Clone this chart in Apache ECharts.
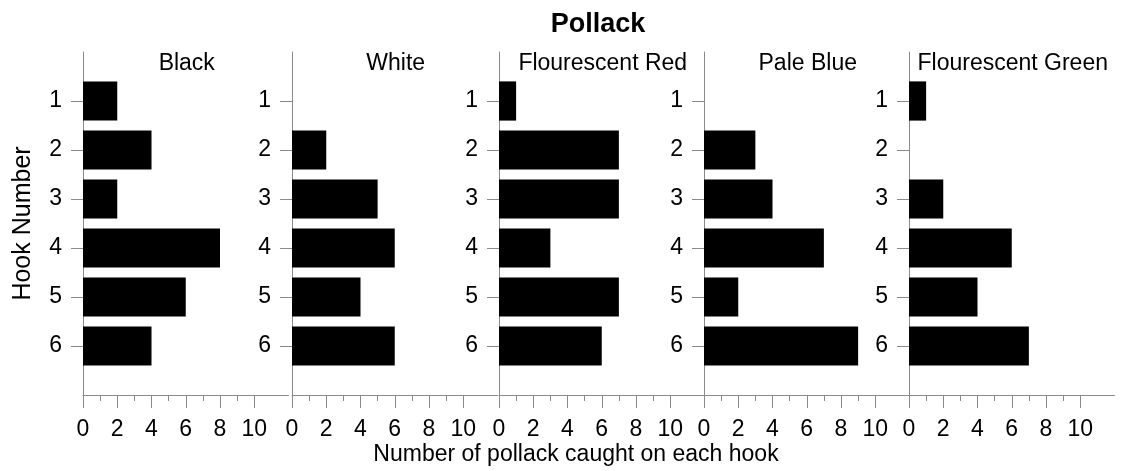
<!DOCTYPE html>
<html>
<head>
<meta charset="utf-8">
<title>Pollack</title>
<script src="https://cdn.jsdelivr.net/npm/echarts@6/dist/echarts.min.js"></script>
<style>
  html, body { margin: 0; padding: 0; background: #fff; }
  #chart { width: 1125px; height: 471px; }
</style>
</head>
<body>
<div id="chart"></div>
<script>
// Pollack catch per hook, one panel per lure colour
const colours = ['Black', 'White', 'Flourescent Red', 'Pale Blue', 'Flourescent Green'];
const hooks = ['1', '2', '3', '4', '5', '6'];
const black = [2, 4, 2, 8, 6, 4];
const white = [0, 2, 5, 6, 4, 6];
const fluoRed = [1, 7, 7, 3, 7, 6];
const paleBlue = [0, 3, 4, 7, 2, 9];
const fluoGreen = [1, 0, 2, 6, 4, 7];
const majorTicks = [0, 2, 4, 6, 8, 10];
const minorTicks = [1, 3, 5, 7, 9];

const panelValues = [black, white, fluoRed, paleBlue, fluoGreen];

// panel layout (pixels)
const panelLeft = [83, 292, 499, 704, 909];
const panelWidth = 205.5;
const panelTop = 52;
const panelHeight = 343;

const FONT = 'Liberation Sans, Arial, sans-serif';
const AXIS_GREY = '#8a8a8a';

// pad the hook list with empty slots so hooks sit one step in from each end
const hookSlots = [''].concat(hooks, ['']);
const showHook = (idx, val) => val !== '';

const grid = [], xAxis = [], yAxis = [], series = [], graphic = [];

panelValues.forEach((vals, i) => {
  grid.push({
    left: panelLeft[i], top: panelTop, width: panelWidth, height: panelHeight,
    outerBoundsMode: 'none', containLabel: false
  });
  // main value axis with labelled ticks
  xAxis.push({
    type: 'value', gridIndex: i, min: 0, max: 12, position: 'bottom',
    axisLine: { show: true, lineStyle: { color: AXIS_GREY, width: 1 } },
    axisTick: { show: true, customValues: majorTicks, length: 13, lineStyle: { color: AXIS_GREY } },
    axisLabel: { show: true, customValues: majorTicks, margin: 23, color: '#000', fontSize: 23, fontFamily: FONT },
    splitLine: { show: false }
  });
  // companion axis carrying the short odd-number ticks
  xAxis.push({
    type: 'value', gridIndex: i, min: 0, max: 12, position: 'bottom', offset: 0,
    axisLine: { show: false },
    axisTick: { show: true, customValues: minorTicks, length: 6, lineStyle: { color: AXIS_GREY } },
    axisLabel: { show: false },
    splitLine: { show: false }
  });
  yAxis.push({
    type: 'category', gridIndex: i, data: hookSlots, inverse: true, boundaryGap: false,
    axisLine: { show: true, lineStyle: { color: AXIS_GREY, width: 1 } },
    axisTick: { show: true, interval: showHook, length: 12, lineStyle: { color: AXIS_GREY } },
    axisLabel: { show: true, interval: showHook, margin: 21, color: '#000', fontSize: 23, fontFamily: FONT },
    splitLine: { show: false },
    name: i === 0 ? 'Hook Number' : '',
    nameLocation: 'middle', nameRotate: 90, nameGap: 47,
    nameTextStyle: { color: '#000', fontSize: 25, fontFamily: FONT }
  });
  series.push({
    type: 'bar', xAxisIndex: 2 * i, yAxisIndex: i,
    data: [null].concat(vals, [null]),
    barWidth: '80%',
    itemStyle: { color: '#000' },
    silent: true, animation: false
  });
  graphic.push({
    type: 'text', x: panelLeft[i] + panelWidth / 2 + 1, y: 64,
    style: {
      text: colours[i], fill: '#000', font: '23px ' + FONT,
      align: 'center', verticalAlign: 'middle', textAlign: 'center', textVerticalAlign: 'middle'
    }
  });
});

graphic.push({
  type: 'text', x: 598, y: 25,
  style: {
    text: 'Pollack', fill: '#000', font: 'bold 27px ' + FONT,
    align: 'center', verticalAlign: 'middle', textAlign: 'center', textVerticalAlign: 'middle'
  }
});
graphic.push({
  type: 'text', x: 576, y: 455,
  style: {
    text: 'Number of pollack caught on each hook', fill: '#000', font: '23px ' + FONT,
    align: 'center', verticalAlign: 'middle', textAlign: 'center', textVerticalAlign: 'middle'
  }
});

const chart = echarts.init(document.getElementById('chart'), null, { renderer: 'canvas' });
chart.setOption({
  backgroundColor: '#fff',
  animation: false,
  grid, xAxis, yAxis, series, graphic
});
</script>
</body>
</html>
